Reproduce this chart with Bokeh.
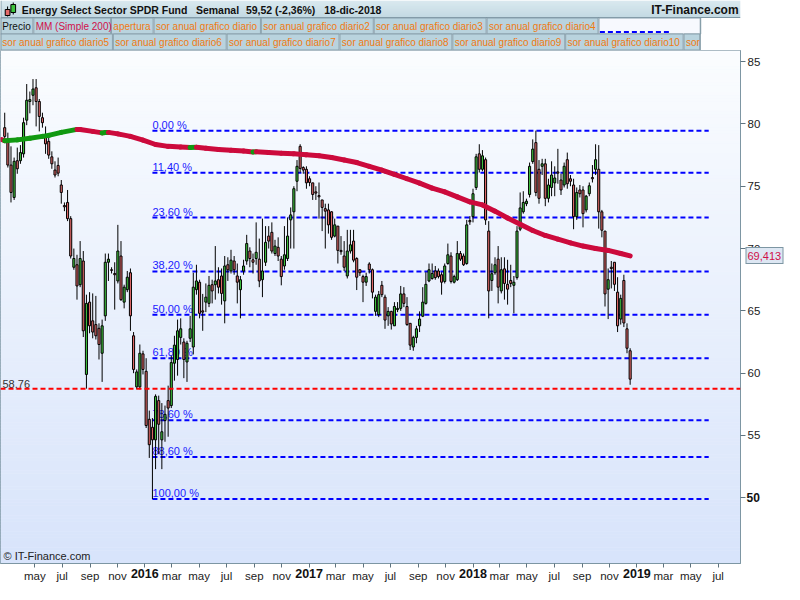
import numpy as np
import pandas as pd
from bokeh.plotting import figure
from bokeh.models import Range1d, FixedTicker, Span, LinearAxis
from bokeh.layouts import column
from bokeh.embed import file_html
from bokeh.resources import INLINE
from bokeh.core.properties import value

FONT = "Liberation Sans"

# ---------------- data ----------------
first_week = "2015-02-23"
opens = [79.7, 78.8, 76.7, 74.1, 77.05, 77.05, 77.6, 80.3, 81.8, 82.3,
 82.9, 81.8, 80.5, 79.1, 78.6, 77.36, 76.3, 76.67, 75.1, 73.45,
 73.7, 72.4, 68.5, 68.7, 67.1, 69.0, 59.9, 65.7, 64.2, 63.9,
 63.6, 61.6, 64.6, 68.9, 68.3, 68.0, 67.4, 69.4, 65.7, 66.7,
 68.06, 63.0, 58.9, 58.9, 61.55, 60.15, 56.3, 55.66, 54.65, 57.8,
 54.65, 56.2, 57.8, 57.4, 60.8, 61.1, 62.87, 62.5, 60.9, 62.8,
 62.1, 66.7, 67.3, 65.0, 65.7, 65.6, 67.1, 67.1, 67.5, 67.8,
 65.8, 68.7, 68.2, 69.0, 67.8, 66.7, 68.2, 69.0, 69.8, 69.1,
 69.2, 69.15, 67.5, 68.9, 71.0, 71.3, 69.6, 70.1, 69.15, 68.6,
 69.2, 72.3, 72.95, 75.4, 78.2, 76.5, 76.36, 75.6, 75.27, 74.55,
 74.25, 73.9, 73.2, 73.1, 72.95, 71.0, 71.8, 69.85, 69.4, 67.8,
 69.8, 70.6, 69.2, 68.3, 67.75, 67.3, 68.76, 68.3, 64.96, 64.7,
 67.05, 66.1, 64.6, 64.96, 63.8, 65.1, 65.2, 66.36, 65.35, 64.0,
 62.1, 62.87, 63.8, 64.57, 65.6, 67.4, 67.6, 68.2, 68.2, 67.9,
 67.36, 68.8, 69.4, 67.3, 67.5, 69.6, 69.4, 68.8, 72.25, 72.56,
 74.9, 77.6, 76.36, 77.13, 71.4, 67.44, 68.06, 69.15, 66.6, 68.37,
 67.13, 67.44, 67.05, 67.67, 71.55, 72.95, 73.6, 74.34, 76.98, 78.5,
 76.36, 76.6, 76.8, 74.03, 74.9, 75.27, 76.15, 75.5, 75.1, 77.13,
 75.6, 75.1, 72.56, 74.7, 74.7, 73.1, 74.4, 75.7, 76.36, 76.36,
 72.95, 71.4, 66.74, 68.5, 68.9, 66.5, 64.34, 67.44, 63.56, 61.8]
highs = [80.9, 79.3, 78.2, 77.3, 78.1, 78.3, 80.5, 83.2, 82.6, 83.6,
 83.6, 82.0, 80.9, 79.8, 79.1, 77.8, 77.0, 77.3, 75.5, 73.7,
 74.7, 72.6, 70.0, 69.5, 70.6, 69.8, 66.3, 66.5, 66.4, 66.2,
 64.0, 64.3, 69.6, 69.6, 68.5, 68.9, 71.9, 70.6, 67.1, 68.2,
 68.4, 63.3, 60.3, 62.3, 61.8, 61.2, 57.0, 56.4, 58.3, 58.2,
 57.6, 57.4, 59.0, 61.4, 63.0, 64.3, 64.4, 62.8, 62.6, 64.6,
 68.06, 68.7, 67.5, 66.36, 67.2, 67.8, 67.5, 70.2, 68.5, 68.4,
 69.4, 69.3, 69.9, 69.4, 68.8, 67.8, 69.1, 71.1, 70.1, 69.6,
 72.1, 70.8, 72.4, 71.8, 71.8, 72.1, 70.7, 70.9, 69.4, 71.8,
 72.5, 73.3, 75.0, 77.1, 78.37, 76.6, 76.6, 75.8, 75.27, 75.0,
 75.3, 73.9, 73.6, 73.6, 73.0, 72.4, 71.8, 71.0, 70.6, 71.5,
 71.5, 71.5, 69.3, 68.3, 67.9, 68.06, 68.9, 68.4, 66.3, 66.6,
 67.4, 66.3, 65.3, 65.0, 65.7, 65.7, 67.0, 66.9, 66.1, 64.0,
 63.0, 63.8, 64.96, 66.9, 68.1, 68.8, 68.8, 68.6, 68.4, 68.1,
 68.8, 70.4, 69.7, 67.9, 70.6, 69.8, 69.6, 72.3, 72.6, 74.8,
 77.6, 78.37, 77.9, 77.3, 72.2, 68.8, 69.3, 70.2, 69.3, 69.3,
 69.1, 68.7, 67.8, 71.8, 74.5, 74.6, 74.0, 76.9, 78.76, 79.46,
 77.1, 77.2, 77.2, 75.6, 77.0, 76.6, 78.0, 76.0, 76.9, 77.7,
 75.9, 75.6, 74.9, 75.1, 75.0, 74.3, 75.3, 76.7, 78.37, 78.3,
 73.1, 71.4, 68.4, 69.0, 68.9, 67.7, 66.3, 67.9, 64.0, 62.0]
lows = [78.6, 76.5, 73.7, 73.9, 76.0, 76.8, 77.3, 79.9, 80.85, 81.5,
 79.8, 79.4, 79.7, 77.6, 77.2, 76.4, 75.7, 75.8, 73.6, 73.0,
 72.2, 69.2, 68.3, 65.9, 66.9, 62.9, 58.76, 63.2, 62.8, 62.7,
 61.1, 59.3, 64.2, 67.4, 68.0, 65.1, 67.2, 65.8, 65.2, 66.5,
 63.4, 60.0, 58.7, 58.7, 59.9, 55.6, 53.2, 49.9, 52.3, 53.5,
 52.3, 54.5, 54.9, 57.2, 59.4, 59.8, 62.3, 59.6, 59.3, 62.5,
 61.5, 66.3, 64.4, 63.4, 64.9, 65.3, 65.6, 65.9, 66.4, 65.5,
 64.0, 67.4, 68.0, 67.9, 65.6, 64.4, 67.9, 68.7, 68.5, 68.0,
 68.7, 66.9, 66.1, 68.6, 70.0, 69.6, 69.4, 69.0, 67.05, 68.3,
 69.0, 70.0, 70.0, 74.6, 76.1, 76.0, 74.8, 75.0, 73.9, 73.9,
 72.4, 71.4, 70.0, 71.2, 70.7, 70.9, 68.8, 69.5, 68.2, 67.6,
 69.6, 68.9, 66.67, 67.8, 65.7, 67.0, 68.0, 66.0, 64.6, 64.5,
 66.1, 63.56, 63.8, 63.5, 63.8, 64.9, 65.0, 65.3, 63.8, 61.86,
 61.8, 62.4, 63.3, 64.5, 65.5, 67.3, 67.5, 67.5, 67.6, 66.3,
 67.2, 68.7, 67.2, 67.2, 67.4, 69.0, 68.6, 68.7, 71.9, 72.1,
 74.7, 76.1, 76.2, 71.9, 64.4, 66.6, 67.9, 65.6, 66.4, 65.9,
 65.5, 66.9, 64.8, 67.5, 71.4, 72.8, 73.4, 74.1, 76.8, 74.2,
 73.6, 75.9, 73.4, 73.7, 74.2, 74.2, 75.2, 74.3, 74.9, 74.8,
 75.0, 71.55, 72.3, 74.1, 71.7, 72.9, 74.2, 75.3, 75.9, 71.6,
 70.9, 65.35, 64.34, 66.8, 66.6, 63.3, 63.9, 63.7, 61.6, 59.07]
closes = [79.0, 76.7, 74.5, 77.0, 76.4, 77.7, 80.1, 81.9, 81.95, 82.8,
 81.8, 80.6, 80.1, 78.4, 77.5, 76.8, 75.9, 76.05, 74.5, 73.35,
 72.4, 69.4, 69.2, 67.0, 69.2, 63.4, 65.6, 63.8, 63.3, 63.0,
 62.3, 63.8, 68.9, 69.15, 68.25, 67.9, 69.8, 65.9, 66.9, 67.7,
 64.6, 60.3, 60.1, 61.6, 60.3, 55.8, 54.26, 54.65, 58.14, 55.9,
 55.3, 56.7, 57.2, 60.85, 62.25, 63.4, 63.56, 61.1, 62.4, 63.56,
 66.9, 67.4, 64.8, 64.9, 66.1, 67.05, 66.6, 67.4, 66.9, 66.4,
 68.6, 68.3, 69.07, 68.3, 67.3, 67.5, 68.6, 70.4, 69.2, 68.9,
 69.7, 67.4, 68.2, 70.5, 70.6, 69.8, 70.2, 69.4, 67.75, 69.5,
 71.0, 72.7, 74.8, 76.6, 76.43, 76.3, 75.27, 75.3, 74.34, 74.45,
 74.15, 73.3, 73.0, 71.9, 70.9, 71.9, 69.85, 69.75, 68.5, 69.8,
 70.3, 69.07, 67.7, 68.06, 67.3, 67.75, 68.3, 66.5, 66.1, 66.3,
 66.3, 64.26, 64.96, 63.95, 65.35, 65.2, 66.36, 65.6, 63.9, 62.25,
 62.87, 63.56, 64.34, 65.7, 67.13, 68.3, 68.0, 67.67, 67.75, 67.3,
 68.6, 69.5, 67.36, 67.75, 69.6, 69.15, 68.7, 71.9, 72.15, 74.4,
 77.36, 76.36, 77.44, 72.3, 66.6, 67.98, 68.7, 66.9, 68.3, 67.2,
 66.74, 67.2, 67.3, 71.4, 73.26, 73.7, 73.8, 76.6, 77.98, 74.5,
 74.03, 76.8, 74.03, 75.1, 75.9, 75.66, 76.05, 74.7, 76.6, 75.2,
 75.4, 72.56, 74.5, 74.4, 72.8, 74.2, 75.04, 75.6, 77.13, 72.95,
 71.47, 66.36, 67.5, 68.4, 67.13, 63.8, 66.0, 64.03, 62.0, 59.52]

# 200-day simple moving average, read at some weeks (week index from first_week)
ma_weeks = [-1, 0, 4, 8, 12, 14, 18, 23, 24, 28, 31, 32, 33, 36, 40, 44, 48, 52, 56, 59,
            61, 64, 68, 72, 76, 79, 80, 84, 88, 92, 96, 100, 104, 108, 112, 116, 120, 124,
            128, 132, 136, 140, 144, 148, 152, 156, 160, 164, 168, 172, 176, 180, 184, 188,
            192, 196, 199]
ma_values = [78.75, 78.65, 78.72, 78.85, 79.0, 79.08, 79.32, 79.56, 79.55, 79.4, 79.28, 79.31,
             79.32, 79.2, 79.0, 78.7, 78.35, 78.2, 78.14, 78.1, 78.13, 78.05, 77.95, 77.88,
             77.82, 77.75, 77.77, 77.7, 77.65, 77.6, 77.52, 77.45, 77.3, 77.1, 76.9, 76.6,
             76.3, 75.95, 75.6, 75.25, 74.85, 74.55, 74.15, 73.75, 73.5, 73.0, 72.45, 71.95,
             71.45, 71.05, 70.75, 70.45, 70.2, 70.0, 69.85, 69.6, 69.41]
ma_last_label = "69,413"
ma_last = 69.413

fib_ratios = [0.0, 0.114, 0.236, 0.382, 0.5, 0.618, 0.786, 0.886, 1.0]
fib_labels = ["0,00 %", "11,40 %", "23,60 %", "38,20 %", "50,00 %", "61,80 %",
              "78,60 %", "88,60 %", "100,00 %"]
fib_low_week = 47
fib_high = 79.46
fib_low = 49.9
fib_end_date = "2019-06-10"

support_level = 58.76
support_label = "58,76"

y_ticks = [50, 55, 60, 65, 70, 75, 80, 85]
month_names = {1: "ene", 2: "feb", 3: "mar", 4: "abr", 5: "may", 6: "jun",
               7: "jul", 8: "ago", 9: "sep", 10: "oct", 11: "nov", 12: "dic"}
tick_start, tick_end = "2015-05-01", "2019-07-01"

title_parts = ["Energy Select Sector SPDR Fund", "Semanal", "59,52 (-2,36%)", "18-dic-2018"]
brand = "IT-Finance.com"
legend_row1 = ["Precio", "MM (Simple 200)", "apertura", "sor anual grafico diario",
               "sor anual grafico diario2", "sor anual grafico diario3", "sor anual grafico diario4"]
legend_row2 = ["sor anual grafico diario5", "sor anual grafico diario6", "sor anual grafico diario7",
               "sor anual grafico diario8", "sor anual grafico diario9", "sor anual grafico diario10",
               "sor"]

# ---------------- helpers ----------------
EPOCH = pd.Timestamp("2015-01-01")
def day(d):
    return (pd.Timestamp(d) - EPOCH).days

n = min(len(opens), len(highs), len(lows), len(closes))
dates = pd.date_range(first_week, periods=n, freq="7D")
xs = np.array([day(d) for d in dates], dtype=float)
o = np.array(opens[:n]); h = np.array(highs[:n]); l = np.array(lows[:n]); c = np.array(closes[:n])

W = 784
SX = W / 800.0
PX_PER_DAY = 0.4587
x_start = xs[0] - 4.3 / PX_PER_DAY
x_end = xs[0] + (756 - 4.3) / PX_PER_DAY
def refval(py):
    return 50 + (513 - py) / 12.9
y_start, y_end = refval(581), refval(50)

GREY = "#7d96a3"

# ---------------- header figure ----------------
HH = 50
hdr = figure(width=W, height=HH, x_range=Range1d(0, W), y_range=Range1d(HH, 0),
             output_backend="svg", toolbar_location=None, min_border=0,
             x_axis_location=None, y_axis_location=None)
hdr.grid.visible = False
hdr.outline_line_color = None
hdr.background_fill_color = "white"
hdr.border_fill_color = "white"

rows = np.arange(17)
t = rows / 16.0
cols = ["#%02x%02x%02x" % (int(206 - 30 * k), int(226 - 20 * k), int(234 - 16 * k)) for k in t]
hdr.quad(left=0, right=W, top=rows - 0.05, bottom=rows + 1.05, fill_color=cols, line_color=None)
hdr.segment(x0=0, x1=W, y0=17, y1=17, line_color=GREY, line_width=1)

hdr.segment(x0=[7.5, 13.5], x1=[7.5, 13.5], y0=[6, 2], y1=[16, 14], line_color="black")
hdr.quad(left=[5, 11], right=[10, 16], top=[9, 4], bottom=[15, 12],
         fill_color=["#e46a6a", "#3ec43e"], line_color="black")

hdr.text(x=[22.5, 207, 260, 343], y=[9] * 4, text=title_parts, text_font=value(FONT),
         text_font_size="10.5px", text_font_style="bold", text_color="#111111",
         text_baseline="middle")
hdr.text(x=[782], y=[9], text=[brand], text_font=value(FONT), text_font_size="12px",
         text_font_style="bold", text_color="#111111", text_baseline="middle", text_align="right")

r1_edges = [0, 36, 120, 166, 282, 404, 526, 647]
r2_edges = [0, 122, 245, 367, 489, 611, 739, 757]
box_fill = "#b9d3de"
box_line = "#8aa1ad"
hdr.quad(left=[e * SX for e in r1_edges[:-1]], right=[(e - 1) * SX for e in r1_edges[1:]],
         top=[17.5] * 7, bottom=[33.5] * 7, fill_color=box_fill, line_color=box_line)
hdr.quad(left=[647 * SX], right=[757 * SX], top=[17.5], bottom=[33.5],
         fill_color="#f7f9fe", line_color=box_line)
hdr.segment(x0=[648 * SX], x1=[725 * SX], y0=[31.5], y1=[31.5], line_color="#0000ff",
            line_width=2, line_dash="5 3")
hdr.quad(left=[e * SX for e in r2_edges[:-1]], right=[(e - 1) * SX for e in r2_edges[1:]],
         top=[33.5] * 7, bottom=[49.5] * 7, fill_color=box_fill, line_color=box_line)
r1_colors = ["#111111", "#d0104a"] + ["#f07a12"] * 5
hdr.text(x=[(e + 2) * SX for e in r1_edges[:-1]], y=[25.5] * 7, text=legend_row1,
         text_font=value(FONT), text_font_size="10px", text_color=r1_colors,
         text_baseline="middle")
hdr.text(x=[(e + 2) * SX for e in r2_edges[:-1]], y=[41.5] * 7, text=legend_row2,
         text_font=value(FONT), text_font_size="10px", text_color="#f07a12",
         text_baseline="middle")
hdr.segment(x0=[757 * SX - 0.5], x1=[757 * SX - 0.5], y0=[17], y1=[HH], line_color=GREY)
hdr.segment(x0=[0.5], x1=[0.5], y0=[0], y1=[HH], line_color=GREY)

# ---------------- main figure ----------------
MH = 584 - HH
p = figure(width=W, height=MH, x_range=Range1d(x_start, x_end), y_range=Range1d(y_start, y_end),
           output_backend="svg", toolbar_location=None, y_axis_location=None,
           min_border_left=0, min_border_right=43, min_border_top=0, min_border_bottom=20)
p.grid.visible = False
p.outline_line_color = GREY
p.border_fill_color = "white"
p.background_fill_color = "#eef3fd"

nb = 160
edges = np.linspace(y_start, y_end, nb + 1)
tt = np.linspace(0, 1, nb)
bg = ["#%02x%02x%02x" % (int(216 + 35 * k), int(228 + 25 * k), int(251 + 4 * k)) for k in tt]
p.quad(left=x_start, right=x_end, bottom=edges[:-1], top=edges[1:] + 0.02, fill_color=bg,
       line_color=None)

dpp = (x_end - x_start) / (W - 43)
ppu = (MH - 20) / (y_end - y_start)

p.add_layout(Span(location=support_level, dimension="width", line_color="#ff0000",
                  line_width=2, line_dash="5 3"))
p.text(x=[x_start + 2 * dpp], y=[support_level], text=[support_label], text_font=value(FONT),
       text_font_size="11px", text_color="#333333", text_baseline="bottom", y_offset=-1)

fib_levels = [fib_high - r * (fib_high - fib_low) for r in fib_ratios]
fx0 = xs[fib_low_week]
fx1 = day(fib_end_date)
p.segment(x0=[fx0] * len(fib_levels), x1=[fx1] * len(fib_levels), y0=fib_levels, y1=fib_levels,
          line_color="#0000ff", line_width=2, line_dash="5 3")
p.text(x=[fx0] * len(fib_levels), y=fib_levels, text=fib_labels, text_font=value(FONT),
       text_font_size="11px", text_color="#1a1aff", text_baseline="bottom", y_offset=0)

up = c >= o
p.segment(x0=xs, x1=xs, y0=l, y1=h, line_color="black", line_width=1)
p.vbar(x=xs, width=4.6, top=np.maximum(o, c), bottom=np.minimum(o, c),
       fill_color=np.where(up, "#3ec43e", "#e46a6a").tolist(), line_color="black", line_width=1)

mx = [xs[0] + 7 * w for w in ma_weeks]
mcol = ["#119911" if ma_values[i + 1] > ma_values[i] else "#cc0a3c" for i in range(len(ma_values) - 1)]
p.segment(x0=mx[:-1], y0=ma_values[:-1], x1=mx[1:], y1=ma_values[1:], line_color=mcol,
          line_width=5, line_cap="round")

p.text(x=[x_start + 3 * dpp], y=[y_start + 2 / ppu], text=["\u00a9 IT-Finance.com"],
       text_font=value(FONT), text_font_size="11px", text_color="#222222", text_baseline="bottom")

def plain_axis(**kw):
    base = dict(axis_line_color=None, major_tick_line_color=None, minor_tick_line_color=None,
                major_tick_in=0, major_tick_out=0, minor_tick_in=0, minor_tick_out=0,
                major_label_text_font=FONT, major_label_standoff=0)
    base.update(kw)
    return LinearAxis(**base)

# right side, from the frame outwards
a1 = plain_axis(ticker=FixedTicker(ticks=y_ticks), major_label_overrides={50: ""},
                axis_line_color=GREY, major_tick_line_color="#5f7480", major_tick_out=5,
                major_label_standoff=2, major_label_text_font_size="11.5px",
                major_label_text_color="#222222")
p.add_layout(a1, "right")
a3 = plain_axis(ticker=FixedTicker(ticks=[ma_last]), major_tick_line_color=GREY,
                major_tick_line_width=17, major_tick_in=18, major_tick_out=20,
                major_label_text_color=None)
p.add_layout(a3, "right")
a4 = plain_axis(ticker=FixedTicker(ticks=[ma_last]), major_tick_line_color="#dde7f3",
                major_tick_line_width=15, major_tick_in=37, major_tick_out=-1,
                major_label_text_color=None)
p.add_layout(a4, "right")
a5 = plain_axis(ticker=FixedTicker(ticks=[ma_last]), major_label_overrides={ma_last: ma_last_label},
                major_label_standoff=-36, major_label_text_font_size="11px",
                major_label_text_color="#d0104a")
p.add_layout(a5, "right")
a2 = plain_axis(ticker=FixedTicker(ticks=[50]), major_label_standoff=-38,
                major_label_text_font_size="12px", major_label_text_font_style="bold",
                major_label_text_color="#111111")
p.add_layout(a2, "right")

# bottom axis: months
tick_dates = pd.date_range(tick_start, tick_end, freq="2MS")
tick_days = [day(d) for d in tick_dates]
overrides = {td: ("" if d.month == 1 else month_names[d.month]) for d, td in zip(tick_dates, tick_days)}
xa = p.xaxis[0]
xa.ticker = FixedTicker(ticks=tick_days)
xa.major_label_overrides = overrides
xa.axis_line_color = GREY
xa.major_tick_line_color = "#5f7480"
xa.major_tick_out = 4
xa.major_tick_in = 0
xa.minor_tick_line_color = None
xa.minor_tick_out = 0
xa.minor_tick_in = 0
xa.major_label_standoff = 2
xa.major_label_text_font = FONT
xa.major_label_text_font_size = "11.5px"
xa.major_label_text_color = "#222222"
# bottom axis: bold years on the same baseline
year_days = [td for d, td in zip(tick_dates, tick_days) if d.month == 1]
year_over = {td: str(d.year) for d, td in zip(tick_dates, tick_days) if d.month == 1}
b2 = plain_axis(ticker=FixedTicker(ticks=year_days), major_label_overrides=year_over,
                major_label_standoff=-16, major_label_text_font_size="12.5px",
                major_label_text_font_style="bold", major_label_text_color="#111111")
p.add_layout(b2, "below")

layout = column(hdr, p, spacing=0)
open("out.html", "w").write(file_html(layout, INLINE))
